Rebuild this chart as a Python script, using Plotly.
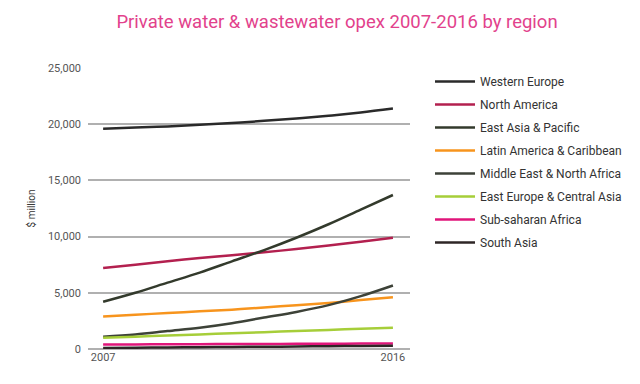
import plotly.graph_objects as go

years = [2007, 2008, 2009, 2010, 2011, 2012, 2013, 2014, 2015, 2016]

regions = [
    "Western Europe",
    "North America",
    "East Asia & Pacific",
    "Latin America & Caribbean",
    "Middle East & North Africa",
    "East Europe & Central Asia",
    "Sub-saharan Africa",
    "South Asia",
]

western_europe = [19600, 19700, 19800, 19950, 20100, 20300, 20500, 20750, 21050, 21400]
north_america = [7200, 7500, 7800, 8100, 8350, 8600, 8900, 9200, 9550, 9900]
east_asia_pacific = [4200, 5000, 5900, 6800, 7800, 8800, 9900, 11100, 12400, 13700]
latin_america = [2900, 3050, 3200, 3350, 3500, 3700, 3900, 4100, 4350, 4600]
middle_east = [1100, 1300, 1600, 1900, 2300, 2800, 3300, 3900, 4700, 5650]
east_europe = [1000, 1100, 1200, 1300, 1400, 1500, 1600, 1700, 1800, 1900]
sub_saharan = [400, 410, 420, 430, 440, 450, 460, 470, 485, 500]
south_asia = [100, 120, 140, 160, 180, 200, 220, 250, 270, 300]

series = [western_europe, north_america, east_asia_pacific, latin_america,
          middle_east, east_europe, sub_saharan, south_asia]

colors = ["#2a2a2a", "#b3204f", "#333a2c", "#f7941d", "#3d4238", "#a6ce39", "#e0157a", "#2e2626"]

fig = go.Figure()
for i, (name, vals, col) in enumerate(zip(regions, series, colors)):
    fig.add_trace(go.Scatter(
        x=years, y=vals, name=name, mode="lines",
        line=dict(color=col, width=2.5, shape="spline"),
        legendgroup=f"g{i}", cliponaxis=False,
    ))

fig.update_layout(
    width=640, height=384,
    paper_bgcolor="white", plot_bgcolor="white",
    margin=dict(l=80, r=238, t=60, b=43, autoexpand=False),
    title=dict(
        text="Private water & wastewater opex 2007-2016 by region",
        x=329 / 640, xref="container", xanchor="center",
        y=1 - 14 / 384, yref="container", yanchor="middle",
        font=dict(family="Roboto", size=18.5, color="#e2428c"),
    ),
    font=dict(family="Roboto", color="#555555"),
    xaxis=dict(
        range=[2006.53, 2016.53], tickvals=[2007, 2016], ticktext=["2007", "2016"],
        showgrid=False, zeroline=False, showline=False, ticks="",
        tickfont=dict(size=11, color="#555555"),
    ),
    yaxis=dict(
        range=[0, 25000], tickvals=[0, 5000, 10000, 15000, 20000, 25000],
        tickformat=",d", showgrid=True, gridcolor="#b0b0b0", gridwidth=1.5,
        zeroline=True, zerolinecolor="#b0b0b0", zerolinewidth=1.5,
        showline=False, ticks="", ticklabelstandoff=6,
        tickfont=dict(size=11, color="#555555"),
        title=dict(text="$ million", font=dict(size=10, color="#333333"), standoff=10),
    ),
    legend=dict(
        xref="container", yref="container",
        x=422 / 640, y=1 - 59 / 384, xanchor="left", yanchor="top",
        font=dict(size=12, color="#333333"),
        tracegroupgap=4, itemwidth=40,
        bgcolor="rgba(0,0,0,0)",
        maxheight=330,
    ),
)

fig.write_html("out.html")
